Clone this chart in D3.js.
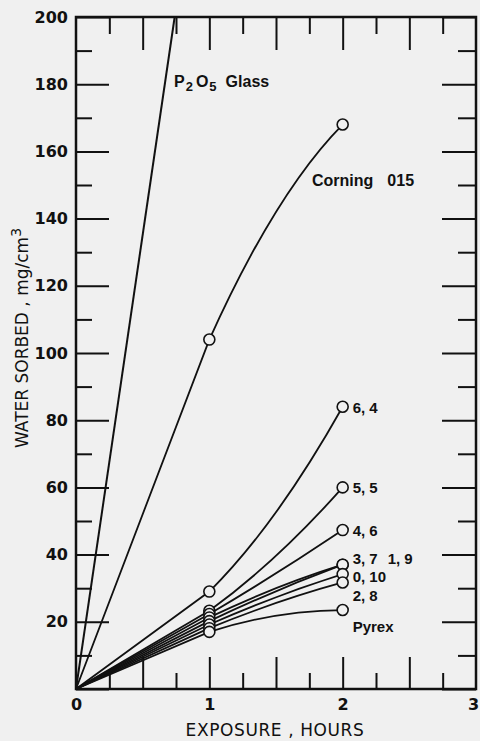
<!DOCTYPE html>
<html>
<head>
<meta charset="utf-8">
<script src="https://cdn.jsdelivr.net/npm/d3@7.9.0/dist/d3.min.js"></script>
<style>
  html, body { margin: 0; padding: 0; background: #f0f0f0; }
  svg { display: block; }
  .tick text { font-family: "DejaVu Sans", sans-serif; font-weight: bold; font-size: 16px; fill: #111; }
  .tick line { stroke: #111; stroke-width: 2; }
  .domain { display: none; }
  .lbl { font-family: "Liberation Sans", Arial, sans-serif; font-weight: bold; font-size: 16px; fill: #111; }
  .end { font-size: 15px; }
</style>
</head>
<body>
<svg id="chart" width="480" height="741"></svg>
<script>
// exposure times (hours) at which samples were weighed
const hours = [0, 1, 2];

// water sorbed, mg/cm3, one array per glass
const corning015 = [0, 104, 168];
const g64 = [0, 29, 84];
const g55 = [0, 23.3, 60];
const g46 = [0, 22.3, 47.3];
const g37 = [0, 21.3, 37];
const g19 = [0, 20.2, 37];
const g010 = [0, 19.2, 34.2];
const g28 = [0, 18.1, 31.7];
const pyrex = [0, 17, 23.5];

// P2O5 glass: straight line leaving the top of the chart
const p2o5Hours = [0, 0.74];
const p2o5Values = [0, 200];

const yMajor = d3.range(0, 201, 20);
const yMinor = d3.range(10, 200, 20);
const xMajor = [0.5, 1, 1.5, 2, 2.5];
const xMinor = [0.25, 0.75, 1.25, 1.75, 2.25, 2.75];
const xLabels = [0, 1, 2, 3];

const svg = d3.select('#chart');
const mLeft = 76, mRight = 476, mTop = 17, mBottom = 689;

const x = d3.scaleLinear().domain([0, 3]).range([mLeft, mRight]);
const y = d3.scaleLinear().domain([0, 200]).range([mBottom, mTop]);

// axes: ticks point inwards, major long, minor short
svg.append('g').attr('transform', `translate(${mLeft},0)`)
  .call(d3.axisLeft(y).tickValues(yMajor).tickSize(-33).tickPadding(8)
    .tickFormat(d => d === 0 ? '' : d));
svg.append('g').attr('transform', `translate(${mLeft},0)`)
  .call(d3.axisLeft(y).tickValues(yMinor).tickSize(-16).tickFormat(''));
svg.append('g').attr('transform', `translate(${mRight},0)`)
  .call(d3.axisRight(y).tickValues(yMajor).tickSize(-34).tickFormat(''));
svg.append('g').attr('transform', `translate(${mRight},0)`)
  .call(d3.axisRight(y).tickValues(yMinor).tickSize(-18).tickFormat(''));

svg.append('g').attr('transform', `translate(0,${mBottom})`)
  .call(d3.axisBottom(x).tickValues(xMajor).tickSize(-32).tickFormat(''));
svg.append('g').attr('transform', `translate(0,${mBottom})`)
  .call(d3.axisBottom(x).tickValues(xMinor).tickSize(-16).tickFormat(''));
const xl = svg.append('g').attr('transform', `translate(0,${mBottom})`)
  .call(d3.axisBottom(x).tickValues(xLabels).tickSize(0).tickPadding(10)
    .tickFormat(d3.format('d')));
xl.selectAll('.tick text').filter(d => d === 3).attr('dx', -3);
svg.append('g').attr('transform', `translate(0,${mTop})`)
  .call(d3.axisTop(x).tickValues(xMajor).tickSize(-33).tickFormat(''));
svg.append('g').attr('transform', `translate(0,${mTop})`)
  .call(d3.axisTop(x).tickValues(xMinor).tickSize(-17).tickFormat(''));

// frame
svg.append('rect')
  .attr('x', mLeft).attr('y', mTop)
  .attr('width', mRight - mLeft).attr('height', mBottom - mTop)
  .attr('fill', 'none').attr('stroke', '#111').attr('stroke-width', 2.5);

// straight from the origin to the 1 h point, then a French-curve bend to 2 h
function kinkCurve(context) {
  let pts = [];
  return {
    areaStart() {}, areaEnd() {},
    lineStart() { pts = []; },
    point(px, py) { pts.push([px, py]); },
    lineEnd() {
      context.moveTo(pts[0][0], pts[0][1]);
      context.lineTo(pts[1][0], pts[1][1]);
      if (pts.length > 2) {
        const s01 = (pts[1][1] - pts[0][1]) / (pts[1][0] - pts[0][0]);
        const s12 = (pts[2][1] - pts[1][1]) / (pts[2][0] - pts[1][0]);
        const s = 0.6 * s01 + 0.4 * s12;
        const h = (pts[2][0] - pts[1][0]) / 2;
        context.quadraticCurveTo(pts[1][0] + h, pts[1][1] + s * h, pts[2][0], pts[2][1]);
      }
    }
  };
}

const line = d3.line()
  .x(d => x(d[0])).y(d => y(d[1]))
  .curve(kinkCurve);

const series = [corning015, g64, g55, g46, g37, g19, g010, g28, pyrex];
const plot = svg.append('g');

plot.append('path')
  .datum(d3.zip(p2o5Hours, p2o5Values))
  .attr('d', d3.line().x(d => x(d[0])).y(d => y(d[1])))
  .attr('fill', 'none').attr('stroke', '#111').attr('stroke-width', 2);

series.forEach(vals => {
  plot.append('path')
    .datum(d3.zip(hours, vals))
    .attr('d', line)
    .attr('fill', 'none').attr('stroke', '#111').attr('stroke-width', 1.8);
});

series.forEach(vals => {
  plot.selectAll(null)
    .data(d3.zip(hours, vals).slice(1))
    .join('circle')
    .attr('cx', d => x(d[0])).attr('cy', d => y(d[1]))
    .attr('r', 5.5)
    .attr('fill', '#f0f0f0').attr('stroke', '#111').attr('stroke-width', 1.6);
});

// labels
const p = svg.append('text').attr('class', 'lbl').attr('x', 174).attr('y', 87);
p.append('tspan').text('P');
p.append('tspan').attr('dy', 4).attr('dx', 1).attr('font-size', 13).text('2');
p.append('tspan').attr('dy', -4).attr('dx', 3).text('O');
p.append('tspan').attr('dy', 4).attr('dx', 1).attr('font-size', 13).text('5');
p.append('tspan').attr('dy', -4).attr('dx', 9).text('Glass');

const c = svg.append('text').attr('class', 'lbl').attr('x', 312).attr('y', 186);
c.append('tspan').text('Corning');
c.append('tspan').attr('dx', 14).text('015');

const endLabels = [
  { text: ['6, 4'], v: g64[2], dy: 6 },
  { text: ['5, 5'], v: g55[2], dy: 6 },
  { text: ['4, 6'], v: g46[2], dy: 6 },
  { text: ['3, 7', '1, 9'], v: g37[2], dy: -1 },
  { text: ['0, 10'], v: g010[2], dy: 8 },
  { text: ['2, 8'], v: g28[2], dy: 19 },
  { text: ['Pyrex'], v: pyrex[2], dy: 22 }
];
svg.selectAll(null).data(endLabels).join('text')
  .attr('class', 'lbl end')
  .attr('x', x(2) + 10)
  .attr('y', d => y(d.v) + d.dy)
  .selectAll('tspan').data(d => d.text).join('tspan')
  .attr('dx', (d, i) => i ? 10 : 0)
  .text(d => d);

// axis titles
svg.append('text')
  .attr('x', 275).attr('y', 736)
  .attr('text-anchor', 'middle')
  .attr('font-family', 'DejaVu Sans, sans-serif')
  .attr('font-size', 17).attr('letter-spacing', 0.6).attr('fill', '#111')
  .text('EXPOSURE , HOURS');

const yt = svg.append('text')
  .attr('transform', 'translate(28,338) rotate(-90)')
  .attr('text-anchor', 'middle')
  .attr('font-family', 'DejaVu Sans, sans-serif')
  .attr('font-size', 17).attr('fill', '#111');
yt.append('tspan').text('WATER SORBED , mg/cm');
yt.append('tspan').attr('dy', -7).attr('font-size', 14).text('3');
</script>
</body>
</html>
